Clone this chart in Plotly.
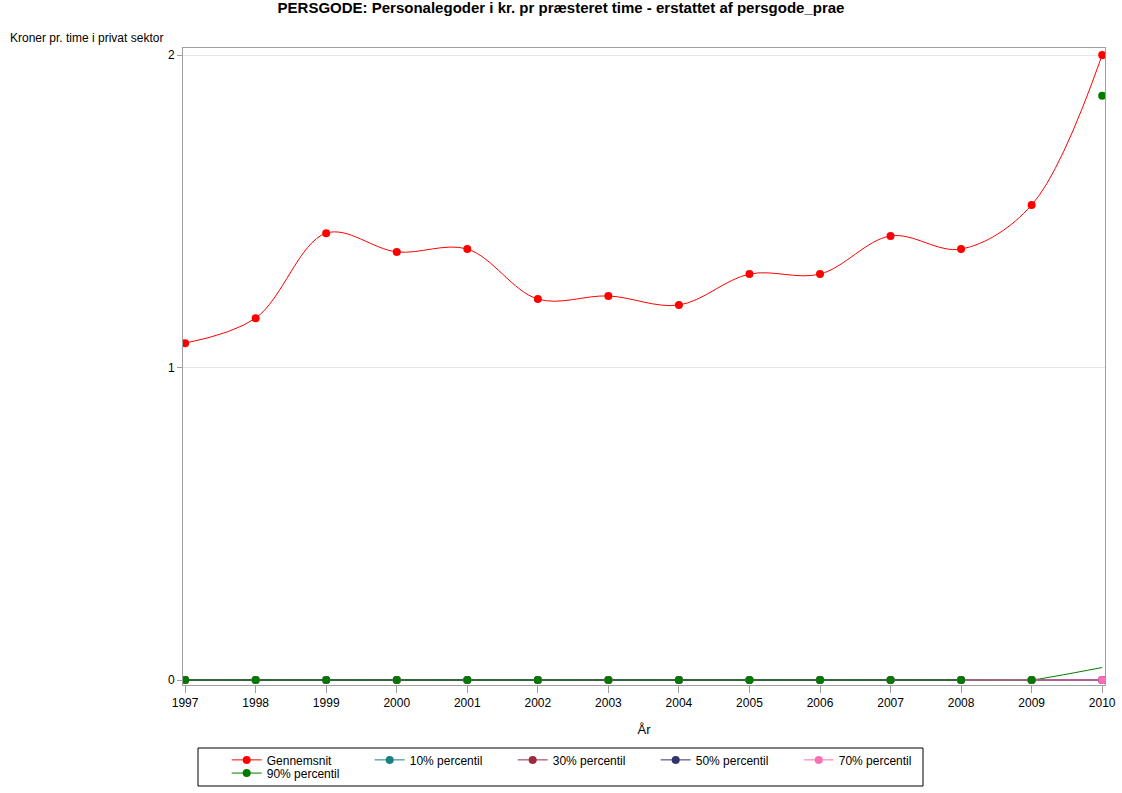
import plotly.graph_objects as go

years = list(range(1997, 2011))
gennemsnit = [1.078, 1.158, 1.430, 1.370, 1.379, 1.219, 1.229, 1.200, 1.299, 1.299, 1.421, 1.379, 1.520, 2.000]
p10 = [0] * 14
p30 = [0] * 14
p50 = [0] * 14
p70 = [0] * 14
p90 = [0] * 13 + [1.87]
# the 90% curve as drawn in the source (does not reach the last marker)
p90_curve = [0] * 13 + [0.04]
# the 70% curve is only visible from 2008
p70_curve = [None] * 11 + [0, 0, 0]

names = ["Gennemsnit", "10% percentil", "30% percentil", "50% percentil", "70% percentil", "90% percentil"]
colors = ["#ff0000", "#1a8080", "#9b2a3c", "#33336e", "#ff6eb4", "#007a00"]

fig = go.Figure()

# lines first
line_sets = [(p10, colors[1], 1), (p30, colors[2], 1), (p50, colors[3], 1),
             (p90_curve, colors[5], 0.4), (p70_curve, colors[4], 1), (gennemsnit, colors[0], 1)]
for vals, c, sm in line_sets:
    fig.add_trace(go.Scatter(x=years, y=vals, mode="lines", showlegend=False,
                             line=dict(color=c, width=1, shape="spline", smoothing=sm),
                             hoverinfo="skip"))

# then markers
marker_sets = [(p10, colors[1]), (p30, colors[2]), (p50, colors[3]),
               (p70, colors[4]), (p90, colors[5]), (gennemsnit, colors[0])]
for vals, c in marker_sets:
    fig.add_trace(go.Scatter(x=years, y=vals, mode="markers", showlegend=False,
                             marker=dict(color=c, size=8)))

# legend entries
for i, (n, c) in enumerate(zip(names, colors)):
    fig.add_trace(go.Scatter(x=[None], y=[None], mode="lines+markers", name=n,
                             legend="legend" if i < 5 else "legend2",
                             line=dict(color=c, width=1), marker=dict(color=c, size=8)))

font = "Liberation Sans, Arial, sans-serif"
fig.update_layout(
    width=1122, height=793,
    margin=dict(l=183, r=17, t=48, b=108, autoexpand=False),
    plot_bgcolor="white", paper_bgcolor="white",
    font=dict(family=font, size=12, color="black"),
    title=dict(text="<b>PERSGODE: Personalegoder i kr. pr præsteret time - erstattet af persgode_prae</b>",
               x=0.5, xanchor="center", y=0.9965, yanchor="top", font=dict(size=15)),
    xaxis=dict(range=[1996.97, 2010.04], tickmode="array", tickvals=years,
               ticks="outside", ticklen=7, tickcolor="#a0a0a0", showgrid=False,
               showline=True, linecolor="#a0a0a0", mirror=True, zeroline=False,
               title=dict(text="År", standoff=15, font=dict(size=13))),
    yaxis=dict(range=[-0.016, 2.0224], tickvals=[0, 1, 2], ticks="outside", ticklen=5,
               tickcolor="#a0a0a0", showgrid=True, gridcolor="#e6e6e6", zeroline=False,
               showline=True, linecolor="#a0a0a0", mirror=True),
    legend=dict(orientation="h", x=0.0474, y=-0.0948, xanchor="left", yanchor="top",
                bgcolor="rgba(0,0,0,0)", entrywidth=98, itemwidth=30,
                font=dict(size=12), tracegroupgap=0),
    legend2=dict(orientation="h", x=0.0474, y=-0.1155, xanchor="left", yanchor="top",
                 bgcolor="rgba(0,0,0,0)", itemwidth=30, font=dict(size=12)),
    annotations=[dict(text="Kroner pr. time i privat sektor", xref="paper", yref="paper",
                      x=-0.1898, y=1.0016, xanchor="left", yanchor="bottom", showarrow=False,
                      font=dict(size=12))],
    shapes=[dict(type="rect", xref="paper", yref="paper",
                 x0=(198 - 183) / 922, x1=(923 - 183) / 922,
                 y0=(685 - 786) / 637, y1=(685 - 748) / 637,
                 line=dict(color="black", width=1))],
)

# drop the default page margin so the figure sits at the window origin
fig.write_html("out.html", config={"displayModeBar": False},
               post_script="document.body.style.margin='0';")
